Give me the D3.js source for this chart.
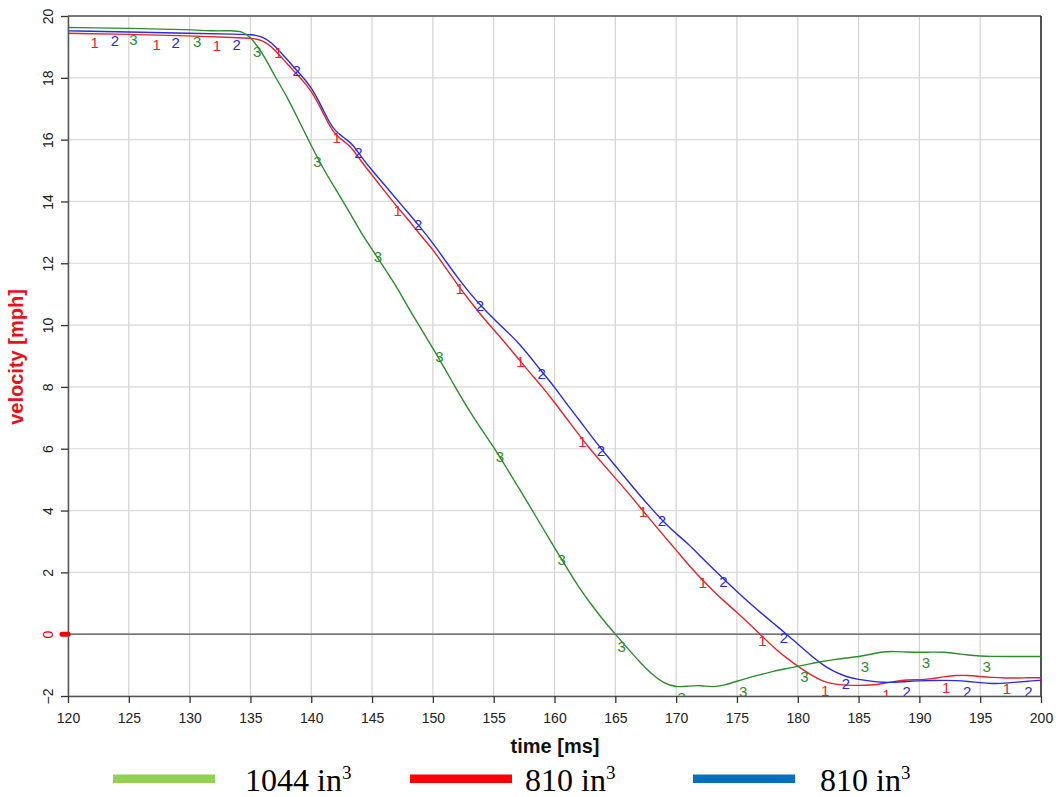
<!DOCTYPE html>
<html><head><meta charset="utf-8">
<script src="https://cdn.jsdelivr.net/npm/d3@7"></script>
<style>
html,body{margin:0;padding:0;background:#fff;}
svg{display:block;}
</style></head>
<body>
<svg id="chart" width="1060" height="797"></svg>
<script>
// ---------------- DATA ----------------
const xTicks = [120,125,130,135,140,145,150,155,160,165,170,175,180,185,190,195,200];
const yTicks = [-2,0,2,4,6,8,10,12,14,16,18,20];

const seriesNames = ["1044 in", "810 in", "810 in"];

// series 1 (red)
const t1 = [120,125,130,134,135,136,137,138,139,140,141,141.5,142,142.5,143,143.5,144,145,146,147,148,149,150,151,152,153,154,155,156,157,158,159,160,161,162,163,164,165,166,167,168,169,170,171,172,173,174,175,176,177,178,179,180,181,182,183,184,185,186,187,188,189,190,191,192,193,194,195,196,197,198,199,200];
const v1 = [19.44,19.41,19.36,19.30,19.28,19.23,18.92,18.45,18.05,17.6,16.85,16.45,16.15,16.0,15.85,15.65,15.35,14.85,14.35,13.85,13.4,12.9,12.45,11.88,11.32,10.8,10.3,9.85,9.4,8.92,8.45,8.0,7.5,6.98,6.45,5.95,5.5,5.05,4.6,4.12,3.65,3.18,2.72,2.25,1.82,1.42,1.05,0.7,0.34,-0.04,-0.42,-0.75,-1.04,-1.3,-1.52,-1.62,-1.65,-1.66,-1.65,-1.6,-1.52,-1.47,-1.48,-1.44,-1.38,-1.33,-1.33,-1.37,-1.4,-1.42,-1.42,-1.41,-1.41];

// series 2 (blue)
const t2 = [120,125,130,134,135,136,137,138,139,140,141,141.5,142,142.5,143,143.5,144,145,146,147,148,149,150,151,152,153,154,155,156,157,158,159,160,161,162,163,164,165,166,167,168,169,170,171,172,173,174,175,176,177,178,179,180,181,182,183,184,185,186,187,188,189,190,191,192,193,194,195,196,197,198,199,200];
const v2 = [19.52,19.48,19.44,19.41,19.4,19.35,19.05,18.6,18.15,17.72,16.95,16.55,16.27,16.12,15.97,15.8,15.5,15.0,14.55,14.08,13.62,13.15,12.65,12.1,11.55,11.05,10.6,10.2,9.82,9.45,8.97,8.47,8.0,7.45,6.95,6.42,5.92,5.45,4.97,4.5,4.05,3.62,3.25,2.92,2.52,2.13,1.75,1.38,1.02,0.68,0.35,0.03,-0.32,-0.66,-0.98,-1.22,-1.38,-1.47,-1.52,-1.56,-1.56,-1.53,-1.51,-1.5,-1.49,-1.5,-1.53,-1.57,-1.6,-1.59,-1.55,-1.52,-1.49];

// series 3 (green)
const t3 = [120,125,130,132,133.5,134.3,135,136,137,138,139,140,141,142,143,144,145,146,147,148,149,150,151,152,153,154,155,156,157,158,159,160,161,162,163,164,165,166,167,168,169,170,171,172,173,174,175,176,177,178,179,180,181,182,183,184,185,186,187,188,189,190,191,192,193,194,195,196,197,198,199,200];
const v3 = [19.63,19.6,19.56,19.51,19.53,19.5,19.33,18.8,18.05,17.4,16.6,15.8,15.05,14.4,13.75,13.05,12.45,11.85,11.25,10.55,9.9,9.25,8.58,7.88,7.22,6.62,6.05,5.42,4.77,4.12,3.46,2.8,2.15,1.52,0.97,0.46,0.0,-0.45,-0.9,-1.3,-1.6,-1.72,-1.68,-1.65,-1.72,-1.65,-1.52,-1.4,-1.3,-1.2,-1.12,-1.04,-0.96,-0.88,-0.82,-0.77,-0.73,-0.65,-0.56,-0.56,-0.58,-0.59,-0.58,-0.58,-0.62,-0.68,-0.71,-0.72,-0.72,-0.72,-0.72,-0.72];

// curve label markers ("1","2","3")
const lab1T = [122.2,127.3,132.25,137.3,142.1,147.1,152.2,157.2,162.3,167.3,172.2,177.1,182.25,187.3,192.2,197.2];
const lab1V = [19.13,19.09,19.03,18.83,16.08,13.72,11.2,8.83,6.25,3.98,1.68,-0.19,-1.81,-1.94,-1.72,-1.75];
const lab2T = [123.86,128.86,133.87,138.8,143.87,148.8,153.87,158.95,163.82,168.84,173.88,178.87,183.97,188.96,193.94,198.96];
const lab2V = [19.2,19.15,19.08,18.25,15.58,13.24,10.65,8.44,5.95,3.69,1.72,-0.12,-1.6,-1.87,-1.87,-1.87];
const lab3T = [125.37,130.63,135.56,140.5,145.49,150.53,155.52,160.59,165.53,170.46,175.52,180.54,185.53,190.54,195.53];
const lab3V = [19.25,19.19,18.84,15.28,12.23,8.97,5.74,2.42,-0.39,-2.04,-1.87,-1.36,-1.06,-0.92,-1.04];

// ---------------- CHART ----------------
const svg = d3.select("#chart");
const x = d3.scaleLinear().domain([120,200]).range([68,1041]);
const y = d3.scaleLinear().domain([-2,20]).range([696,16]);

const lineColors = ["#e3262b", "#2b2be0", "#2e8b2e"];
const legendColors = ["#92d050", "#ff0000", "#0070c0"];

// grid
const grid = svg.append("g");
grid.selectAll("line.gx").data(xTicks).join("line")
  .attr("x1", d => x(d)).attr("x2", d => x(d))
  .attr("y1", y(20)).attr("y2", y(-2))
  .attr("stroke", "#d2d2d2").attr("stroke-width", 1.2);
grid.selectAll("line.gy").data(yTicks).join("line")
  .attr("x1", x(120)).attr("x2", x(200))
  .attr("y1", d => y(d)).attr("y2", d => y(d))
  .attr("stroke", "#d9d9d9").attr("stroke-width", 1.2);

// zero line
svg.append("line")
  .attr("x1", x(120)).attr("x2", x(200))
  .attr("y1", y(0)).attr("y2", y(0))
  .attr("stroke", "#555").attr("stroke-width", 1.2);

// frame (top, right)
svg.append("line").attr("x1", x(120)).attr("x2", x(200)).attr("y1", y(20)).attr("y2", y(20))
  .attr("stroke", "#555").attr("stroke-width", 1.5);
svg.append("line").attr("x1", x(200)).attr("x2", x(200)).attr("y1", y(20)).attr("y2", y(-2))
  .attr("stroke", "#222").attr("stroke-width", 1.5);

// clip
svg.append("clipPath").attr("id", "clip").append("rect")
  .attr("x", x(120)).attr("y", y(20)).attr("width", x(200)-x(120)).attr("height", y(-2)-y(20));

const plot = svg.append("g").attr("clip-path", "url(#clip)");
const line = d3.line().x(d => x(d[0])).y(d => y(d[1])).curve(d3.curveBasis);

const series = [
  {t: t1, v: v1, c: lineColors[0], lt: lab1T, lv: lab1V, label: "1"},
  {t: t2, v: v2, c: lineColors[1], lt: lab2T, lv: lab2V, label: "2"},
  {t: t3, v: v3, c: lineColors[2], lt: lab3T, lv: lab3V, label: "3"}
];

series.forEach(s => {
  plot.append("path")
    .datum(s.t.map((t, i) => [t, s.v[i]]))
    .attr("fill", "none").attr("stroke", s.c).attr("stroke-width", 1.4)
    .attr("d", line);
});
series.forEach(s => {
  plot.selectAll(null).data(s.lt.map((t, i) => [t, s.lv[i]])).join("text")
    .attr("x", d => x(d[0])).attr("y", d => y(d[1]))
    .attr("text-anchor", "middle").attr("dominant-baseline", "central")
    .attr("font-family", "Liberation Sans, Arial, sans-serif").attr("font-size", 15)
    .attr("fill", s.c).text(s.label);
});

// axes
const xAxis = svg.append("g").attr("transform", `translate(0,${y(-2)})`)
  .call(d3.axisBottom(x).tickValues(xTicks).tickSize(7).tickSizeOuter(0).tickPadding(10).tickFormat(d3.format("d")));
xAxis.select(".domain").attr("stroke", "#555").attr("stroke-width", 1.5);
xAxis.selectAll(".tick line").attr("stroke", "#333").attr("stroke-width", 1.3);
xAxis.selectAll(".tick text").attr("font-family", "Liberation Sans, Arial, sans-serif").attr("font-size", 14).attr("fill", "#222");

const yAxis = svg.append("g").attr("transform", `translate(${x(120)},0)`)
  .call(d3.axisLeft(y).tickValues(yTicks).tickSize(7).tickSizeOuter(0).tickFormat(d3.format("d")));
yAxis.select(".domain").attr("stroke", "#555").attr("stroke-width", 1.5);
yAxis.selectAll(".tick line").attr("stroke", "#333").attr("stroke-width", 1.3);
yAxis.selectAll(".tick text")
  .attr("font-family", "Liberation Sans, Arial, sans-serif").attr("font-size", 14)
  .attr("fill", d => d === 0 ? "#e00000" : "#222")
  .attr("x", null).attr("dy", null)
  .attr("text-anchor", "middle")
  .attr("transform", "translate(-15,0) rotate(-90)");

// red marker at zero
svg.append("line").attr("x1", x(120)-6).attr("x2", x(120)).attr("y1", y(0)).attr("y2", y(0))
  .attr("stroke", "#ee0000").attr("stroke-width", 5).attr("stroke-linecap", "round");

// axis titles
svg.append("text").attr("x", 555).attr("y", 753).attr("text-anchor", "middle")
  .attr("font-family", "Liberation Sans, Arial, sans-serif").attr("font-size", 20).attr("font-weight", "bold")
  .attr("fill", "#111").text("time [ms]");
svg.append("text").attr("transform", "translate(23,357) rotate(-90)").attr("text-anchor", "middle")
  .attr("font-family", "Liberation Sans, Arial, sans-serif").attr("font-size", 20).attr("font-weight", "bold")
  .attr("fill", "#e8101a").text("velocity [mph]");

// legend
const legendX = [113, 410, 693];
const legendTextX = [245, 525, 820];
const lg = svg.append("g");
seriesNames.forEach((n, i) => {
  lg.append("rect").attr("x", legendX[i]).attr("y", 774.5).attr("width", 102).attr("height", 8.5).attr("fill", legendColors[i]);
  const t = lg.append("text").attr("x", legendTextX[i]).attr("y", 790.5)
    .attr("font-family", "Liberation Serif, Times New Roman, serif").attr("font-size", 32).attr("fill", "#000");
  t.append("tspan").text(n);
  t.append("tspan").attr("font-size", 19).attr("dy", -12).text("3");
});
</script>
</body></html>
